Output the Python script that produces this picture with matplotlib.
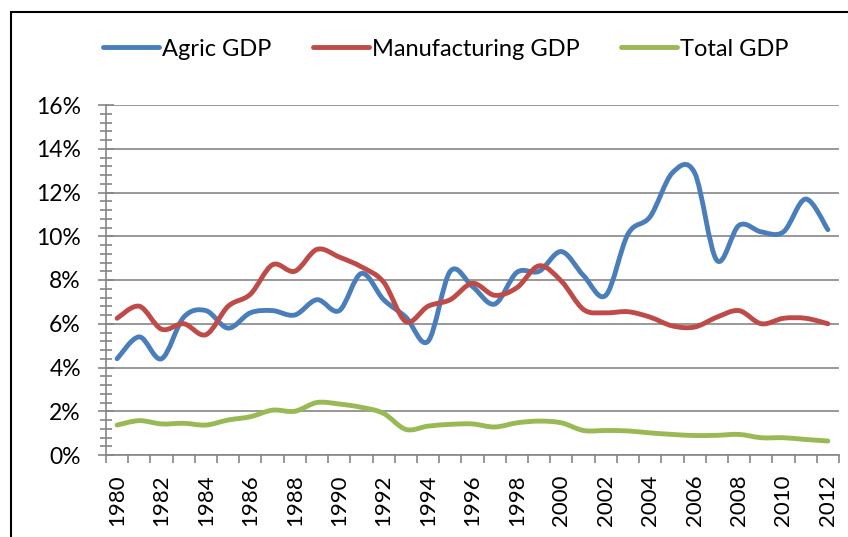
import numpy as np
import matplotlib
matplotlib.use("Agg")
import matplotlib.pyplot as plt
from matplotlib.path import Path
from matplotlib.patches import PathPatch, Rectangle
from matplotlib.lines import Line2D
from matplotlib.ticker import FuncFormatter, MultipleLocator

plt.rcParams['font.family'] = ['Lato', 'DejaVu Sans']

years = list(range(1980, 2013))
agric = [4.4, 5.4, 4.4, 6.3, 6.6, 5.8, 6.5, 6.6, 6.4, 7.1, 6.6, 8.3, 7.1, 6.3, 5.2,
         8.4, 7.7, 6.9, 8.35, 8.4, 9.3, 8.2, 7.3, 10.1, 10.9, 12.9, 12.9, 8.9, 10.5,
         10.2, 10.2, 11.7, 10.3]
manuf = [6.25, 6.8, 5.75, 6.0, 5.5, 6.8, 7.35, 8.7, 8.4, 9.4, 9.05, 8.6, 7.9, 6.1, 6.8,
         7.1, 7.85, 7.3, 7.65, 8.65, 7.95, 6.65, 6.5, 6.55, 6.3, 5.9, 5.85, 6.3, 6.6,
         6.0, 6.25, 6.25, 6.0]
total = [1.37, 1.57, 1.42, 1.45, 1.37, 1.6, 1.75, 2.05, 2.0, 2.4, 2.33, 2.18, 1.9, 1.17,
         1.32, 1.4, 1.42, 1.28, 1.47, 1.55, 1.47, 1.12, 1.12, 1.1, 1.01, 0.94, 0.89, 0.9,
         0.94, 0.79, 0.79, 0.71, 0.64]
labels = ["Agric GDP", "Manufacturing GDP", "Total GDP"]
colors = ["#4A7EBB", "#BE4B48", "#98B954"]


def smooth_path(xs, ys):
    # Excel-style smoothed line: cubic Bezier segments through each point
    pts = np.column_stack([xs, ys]).astype(float)
    n = len(pts)
    verts = [pts[0]]
    codes = [Path.MOVETO]
    for i in range(n - 1):
        p0 = pts[i - 1] if i > 0 else pts[i]
        p1, p2 = pts[i], pts[i + 1]
        p3 = pts[i + 2] if i + 2 < n else pts[i + 1]
        verts += [p1 + (p2 - p0) / 6, p2 - (p3 - p1) / 6, p2]
        codes += [Path.CURVE4] * 3
    return Path(verts, codes)


fig = plt.figure(figsize=(8.48, 5.37), dpi=100)
ax = fig.add_axes([106 / 848, 82 / 537, 733 / 848, 350 / 537])

x = np.arange(len(years))
for ys, c in zip([agric, manuf, total], colors):
    ax.add_patch(PathPatch(smooth_path(x, ys), fill=False, edgecolor=c, lw=3.5,
                           capstyle='round', joinstyle='round'))

ax.set_xlim(-0.5, len(years) - 0.5)
ax.set_ylim(0, 16)

# y axis
ax.yaxis.set_major_locator(MultipleLocator(2))
ax.yaxis.set_minor_locator(MultipleLocator(0.4))
ax.yaxis.set_major_formatter(FuncFormatter(lambda v, p: f"{v:.0f}%"))
ax.tick_params(axis='y', which='major', direction='inout', length=12, width=1.2,
               color='#868686', labelsize=16.5, pad=12)
ax.tick_params(axis='y', which='minor', direction='inout', length=9, width=1.2,
               color='#868686')
ax.grid(axis='y', which='major', color='#868686', lw=1.2)
ax.set_axisbelow(True)

# x axis: tick marks at category boundaries, labels every other year
ax.set_xticks(np.arange(-0.5, len(years), 1.0))
ax.set_xticklabels([])
ax.tick_params(axis='x', which='major', direction='out', length=6, width=1.2,
               color='#868686')
ax.set_xticks(x[::2], minor=True)
ax.set_xticklabels([str(y) for y in years[::2]], minor=True, rotation=90,
                   fontsize=16)
ax.tick_params(axis='x', which='minor', length=0, pad=14)

for s in ['top', 'right']:
    ax.spines[s].set_visible(False)
for s in ['left', 'bottom']:
    ax.spines[s].set_color('#868686')
    ax.spines[s].set_linewidth(1.2)

handles = [Line2D([], [], color=c, lw=3.5, solid_capstyle='round') for c in colors]
fig.legend(handles, labels, loc='center', bbox_to_anchor=(446 / 848, 1 - 49 / 537),
           ncol=3, frameon=False, fontsize=17, handlelength=2.35, handletextpad=0.15,
           columnspacing=1.75)

# outer chart frame (cropped by the image edge)
fig.patches.append(Rectangle((11 / 848, -0.1), 1.0, 1 - 12 / 537 + 0.1,
                             transform=fig.transFigure, fill=False,
                             edgecolor='black', lw=1.5))

fig.savefig("out.png", dpi=100)
